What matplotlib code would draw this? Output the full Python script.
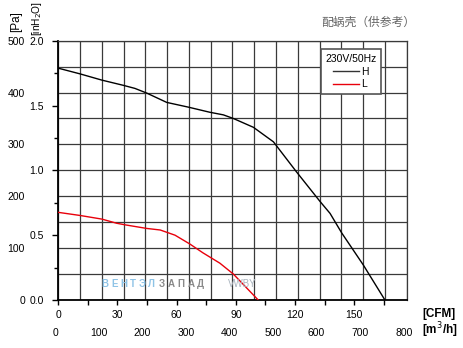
import matplotlib
matplotlib.use("Agg")
import matplotlib.pyplot as plt
from matplotlib.lines import Line2D
from matplotlib.ticker import MultipleLocator, FormatStrFormatter
import matplotlib.transforms as mtransforms

# ---- data (airflow in m3/h, pressure in Pa) ----
h_flow = [0, 50, 100, 149, 176, 203, 249, 298, 348, 379, 402, 448, 494, 547, 601, 624, 651, 700, 750]
h_pres = [447, 436, 424, 414, 408, 399, 381, 372, 362, 357, 350, 333, 305, 247, 190, 167, 129, 68, 0]
l_flow = [0, 50, 100, 134, 153, 203, 234, 268, 302, 332, 371, 402, 459]
l_pres = [169, 163, 156, 148, 145, 138, 135, 125, 108, 91, 71, 50, 0]

m3h_ticks = [0, 100, 200, 300, 400, 500, 600, 700, 800]
cfm_ticks = [0, 30, 60, 90, 120, 150]
pa_ticks = [0, 100, 200, 300, 400, 500]
inh2o_ticks = [0.0, 0.5, 1.0, 1.5, 2.0]

CFM_PER_M3H = 176.6 / 800.0
PA_PER_INH2O = 250.0

plt.rcParams['font.family'] = ['Liberation Sans', 'DejaVu Sans']

fig = plt.figure(figsize=(4.64, 3.48), dpi=100)
W, H = 464.0, 348.0
ax = fig.add_axes([58.3 / W, (H - 300) / H, 348.4 / W, 259.3 / H])

ax.plot(h_flow, h_pres, color='black', lw=1.0, zorder=3)
ax.plot(l_flow, l_pres, color='#e8000b', lw=1.0, zorder=3)

ax.set_xlim(0, 800)
ax.set_ylim(0, 500)

grid_c = '#3a3a3a'
ax.set_xticks(m3h_ticks)
ax.xaxis.set_minor_locator(MultipleLocator(50))
ax.set_yticks(pa_ticks)
ax.yaxis.set_minor_locator(MultipleLocator(50))
ax.grid(True, which='both', color=grid_c, lw=0.9)
ax.set_axisbelow(True)
ax.tick_params(axis='x', which='both', length=0, pad=20, labelsize=7.5)
ax.tick_params(axis='y', which='both', length=0, pad=24, labelsize=7.5)
for lbl in ax.get_xticklabels():
    lbl.set_transform(lbl.get_transform() + mtransforms.ScaledTranslation(-3 / 100, 0, fig.dpi_scale_trans))

for s in ['top', 'right']:
    ax.spines[s].set_color(grid_c)
    ax.spines[s].set_linewidth(0.9)
for s in ['left', 'bottom']:
    ax.spines[s].set_color('black')
    ax.spines[s].set_linewidth(1.3)

# secondary CFM axis (bottom)
secx = ax.secondary_xaxis('bottom', functions=(lambda q: q * CFM_PER_M3H, lambda c: c / CFM_PER_M3H))
secx.set_xticks(cfm_ticks)
secx.xaxis.set_minor_locator(MultipleLocator(15))
secx.tick_params(axis='x', which='both', length=3.8, width=1.0, pad=3.5, labelsize=7.5, direction='out')
secx.spines['bottom'].set_visible(False)

# secondary inH2O axis (left)
secy = ax.secondary_yaxis('left', functions=(lambda p: p / PA_PER_INH2O, lambda i: i * PA_PER_INH2O))
secy.set_yticks(inh2o_ticks)
secy.yaxis.set_major_formatter(FormatStrFormatter('%.1f'))
secy.yaxis.set_minor_locator(MultipleLocator(0.25))
secy.tick_params(axis='y', which='major', length=4.3, width=1.0, pad=6, labelsize=7.5)
secy.tick_params(axis='y', which='minor', length=3.0, width=1.0)
secy.spines['left'].set_visible(False)

# legend
handles = [Line2D([], [], color='#333333', lw=1.0), Line2D([], [], color='#e8000b', lw=1.0)]
leg = ax.legend(handles, ['H', 'L'], title='230V/50Hz', loc='upper left',
                bbox_to_anchor=(320.7 / W, 1 - 49.3 / H), bbox_transform=fig.transFigure,
                fontsize=7.5, title_fontsize=7.5, frameon=True, fancybox=False,
                framealpha=1, edgecolor='#555555', handlelength=2.5, handletextpad=0.2,
                labelspacing=0.25, borderpad=0.45, borderaxespad=0)
leg.get_frame().set_linewidth(1.2)
leg.set_zorder(5)

# texts
fig.text(368 / W, 1 - 22.5 / H, '配蜗壳（供参考）', ha='center', va='center', fontsize=8.5,
         color='#666666', family=['Noto Sans CJK SC', 'DejaVu Sans'])
fig.text(16 / W, 1 - 22 / H, '[Pa]', rotation=90, ha='center', va='center', fontsize=8.5)
fig.text(37 / W, 1 - 1 / H, '[inH$_2$O]', rotation=90, ha='center', va='top', fontsize=7.3)
fig.text(422 / W, 1 - 314 / H, '[CFM]', ha='left', va='center', fontsize=8.5, fontweight='bold')
fig.text(422 / W, 1 - 330 / H, '[m$^3$/h]', ha='left', va='center', fontsize=8.5, fontweight='bold')

# watermark (letter-spaced)
wm_blue = 'ВЕНТЭЛ'
wm_gray = 'ЗАПАД'
for i, ch in enumerate(wm_blue):
    fig.text((105 + i * 9.2) / W, 1 - 284 / H, ch, ha='center', va='center', fontsize=7,
             color='#8ec3e6', fontweight='bold')
for i, ch in enumerate(wm_gray):
    fig.text((162 + i * 9.6) / W, 1 - 284 / H, ch, ha='center', va='center', fontsize=7,
             color='#8a8a8a', fontweight='bold')
fig.text(228 / W, 1 - 284 / H, 'VWBY', ha='left', va='center', fontsize=7,
         color='#aab4bf')

fig.savefig('out.png', dpi=100)
